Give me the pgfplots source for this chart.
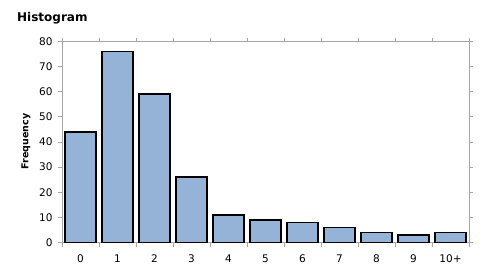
\documentclass[border=0pt]{standalone}
\usepackage{pgfplots}
\pgfplotsset{compat=1.18}
\usepackage{fontspec}
\setmainfont{DejaVu Sans}
\definecolor{barblue}{HTML}{95B3D7}
\definecolor{axgray}{HTML}{A6A6A6}
\begin{document}
\begin{tikzpicture}[x=1bp,y=1bp]
\useasboundingbox (0,0) rectangle (496,275);
\node[anchor=base west,inner sep=0pt,font=\fontsize{12bp}{14bp}\selectfont\bfseries] at (17,254) {Histogram};
\node[rotate=90,anchor=center,inner sep=0pt,font=\fontsize{9.5bp}{11bp}\selectfont\bfseries] at (26,133.5) {Frequency};
\begin{axis}[
  at={(62bp,32.5bp)}, anchor=south west,
  scale only axis, width=407bp, height=201bp,
  xmin=-0.5, xmax=10.5, ymin=0, ymax=80,
  ybar, bar width=31bp, bar shift=0pt,
  xtick={0,...,10},
  xticklabels={0,1,2,3,4,5,6,7,8,9,10+},
  minor xtick={-0.5,0.5,...,10.5},
  major x tick style={draw=none},
  ytick={0,10,...,80},
  tick align=outside,
  major tick length=4bp, minor tick length=4bp,
  every tick/.style={axgray, line width=0.8bp},
  axis line style={axgray, line width=0.8bp},
  xticklabel style={font=\fontsize{10.5bp}{12bp}\selectfont, yshift=-5bp},
  yticklabel style={font=\fontsize{10.5bp}{12bp}\selectfont, xshift=-2bp},
  /pgf/number format/assume math mode=true,
]
\addplot[fill=barblue, draw=black, line width=1.6bp] coordinates {
(0,44) (1,76) (2,59) (3,26) (4,11) (5,9) (6,8) (7,6) (8,4) (9,3) (10,4)
};
\end{axis}
\end{tikzpicture}
\end{document}
